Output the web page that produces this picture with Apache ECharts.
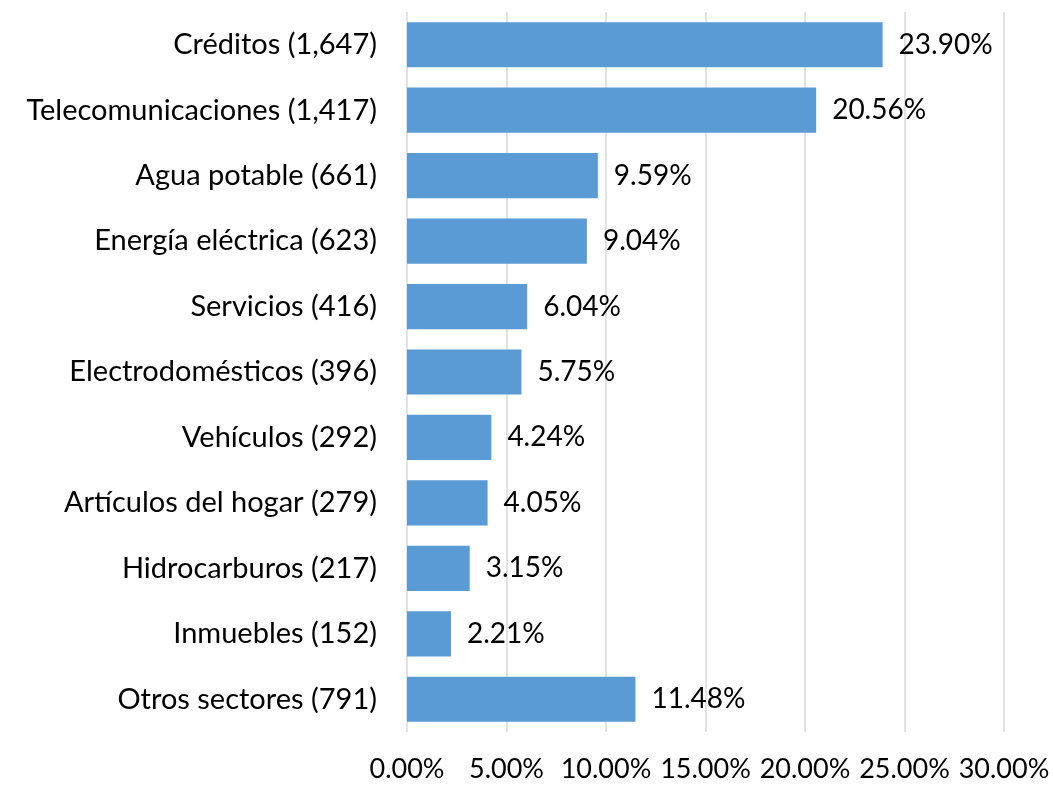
<!DOCTYPE html>
<html>
<head>
<meta charset="utf-8">
<style>
	html, body { margin: 0; padding: 0; background: #fff; }
	#chart { width: 1053px; height: 785px; }
</style>
<script src="https://cdn.jsdelivr.net/npm/echarts@6/dist/echarts.min.js"></script>
</head>
<body>
<div id="chart"></div>
<script>
"use strict";

/*-----data-----*/
var categories = ['Créditos (1,647)', 'Telecomunicaciones (1,417)', 'Agua potable (661)', 'Energía eléctrica (623)', 'Servicios (416)', 'Electrodomésticos (396)', 'Vehículos (292)', 'Artículos del hogar (279)', 'Hidrocarburos (217)', 'Inmuebles (152)', 'Otros sectores (791)'];
var shares = [23.90, 20.56, 9.59, 9.04, 6.04, 5.75, 4.24, 4.05, 3.15, 2.21, 11.48];
var tickValues = [0, 5, 10, 15, 20, 25, 30];

var font = 'Lato, "Open Sans", sans-serif';
var chart = echarts.init(document.getElementById('chart'));
var option = {
	animation: false,
	grid: {
		top: 12,
		bottom: 53,
		left: 407,
		right: 49
	},
	xAxis: {
		type: 'value',
		min: tickValues[0],
		max: tickValues[tickValues.length - 1],
		interval: 5,
		axisLine: { show: false },
		axisTick: { show: false },
		splitLine: {
			lineStyle: { color: '#d9d9d9', width: 1.5 }
		},
		axisLabel: {
			margin: 24,
			fontSize: 27,
			fontFamily: font,
			color: '#000',
			formatter: function (v) { return v.toFixed(2) + '%'; }
		}
	},
	yAxis: {
		type: 'category',
		inverse: true,
		data: categories,
		axisLine: { show: false },
		axisTick: { show: false },
		axisLabel: {
			margin: 30,
			fontSize: 29,
			fontFamily: font,
			color: '#000'
		}
	},
	series: [{
		type: 'bar',
		data: shares,
		barWidth: '69%',
		itemStyle: { color: '#5b9bd5' },
		label: {
			show: true,
			position: 'right',
			distance: 16,
			fontSize: 28,
			fontFamily: font,
			color: '#000',
			formatter: function (p) { return p.value.toFixed(2) + '%'; }
		}
	}]
};
chart.setOption(option);
</script>
</body>
</html>
